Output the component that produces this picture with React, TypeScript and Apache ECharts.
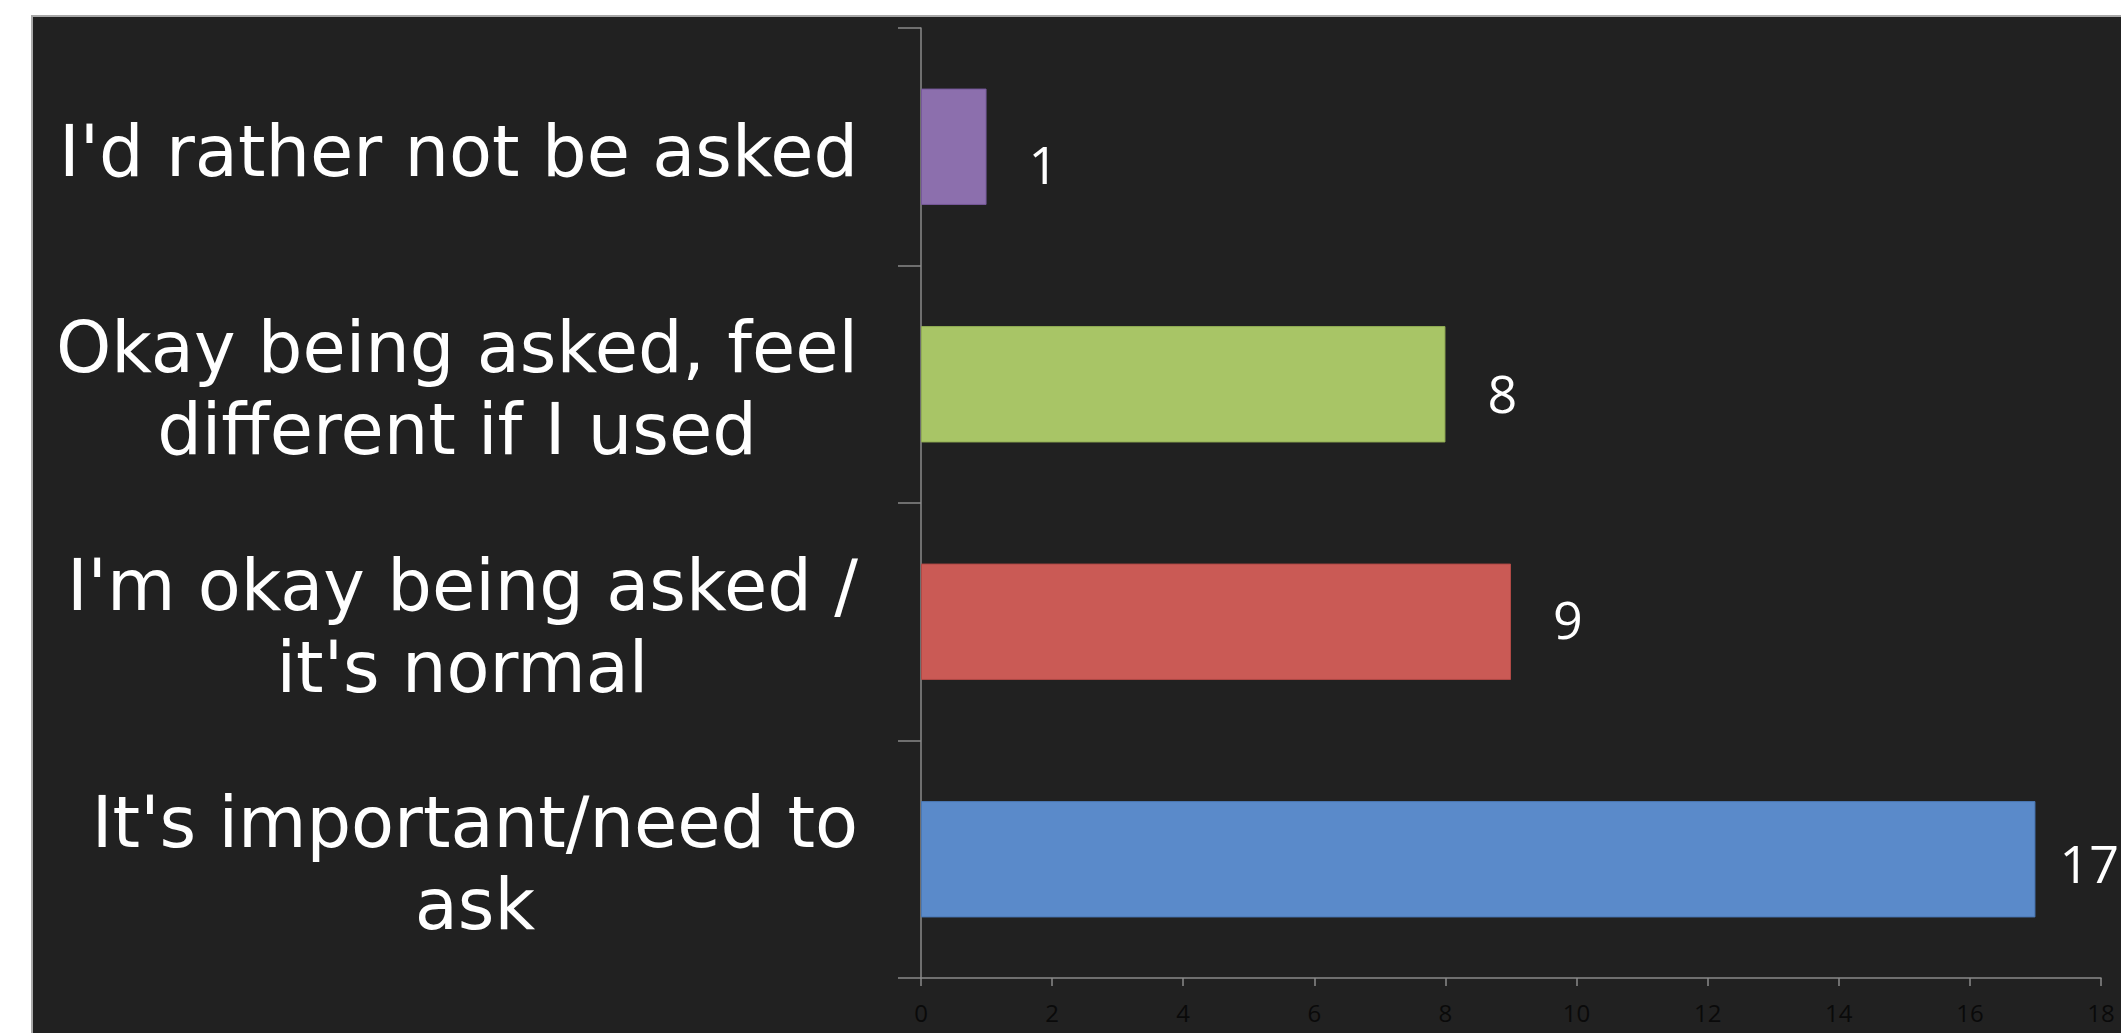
import React, { useEffect, useRef } from "react";
import * as echarts from "echarts";

const categories = [
  "It's important/need to\nask",
  "I'm okay being asked /\nit's normal",
  "Okay being asked, feel\ndifferent if I used",
  "I'd rather not be asked",
];
const values = [17, 9, 8, 1];
const barColors = ["#5A8ACA", "#CA5A55", "#A8C566", "#8C6FAD"];
const barBorders = ["#4A78B4", "#B04A46", "#92AE55", "#76599A"];
const xTickMin = 0;
const xTickMax = 18;
const xTickStep = 2;
// nudges of the value labels as placed in the original (x, y in px)
const labelNudges = [
  [-18, 3],
  [0, -3],
  [0, 8],
  [0, 17],
];

export default function App() {
  const ref = useRef<HTMLDivElement>(null);
  useEffect(() => {
    if (!ref.current) return;
    const chart = echarts.init(ref.current, undefined, { renderer: "svg" });
    const axisColor = "#8A8A8A";
    chart.setOption({
      animation: false,
      grid: { left: 888, right: 20, top: 11, bottom: 55, containLabel: false },
      xAxis: {
        type: "value",
        min: xTickMin,
        max: xTickMax,
        interval: xTickStep,
        splitLine: { show: false },
        axisLine: { show: true, lineStyle: { color: axisColor, width: 1.5 } },
        axisTick: { show: true, length: 8, lineStyle: { color: axisColor, width: 1.5 } },
        axisLabel: {
          margin: 22,
          color: "#0A0A0A",
          fontSize: 24,
          fontFamily: "Open Sans",
        },
      },
      yAxis: {
        type: "category",
        data: categories,
        axisLine: { show: true, lineStyle: { color: axisColor, width: 1.5 } },
        axisTick: { show: true, length: 23, lineStyle: { color: axisColor, width: 1.5 } },
        axisLabel: {
          margin: 63,
          align: "right",
          color: "#FFFFFF",
          fontSize: 70.3,
          fontFamily: "DejaVu Sans",
          lineHeight: 82,
          padding: [10, 0, 0, 0],
          formatter: (v: string) =>
            v
              .split("\n")
              .map((l) => `{c|${l}}`)
              .join("\n"),
          rich: {
            c: {
              align: "center",
              color: "#FFFFFF",
              fontSize: 70.3,
              fontFamily: "DejaVu Sans",
              lineHeight: 82,
            },
          },
        },
      },
      series: [
        {
          type: "bar",
          barCategoryGap: "51%",
          data: values.map((v, i) => ({
            value: v,
            itemStyle: { color: barColors[i], borderColor: barBorders[i], borderWidth: 1 },
            label: { offset: labelNudges[i] },
          })),
          label: {
            show: true,
            position: "right",
            distance: 42,
            color: "#FFFFFF",
            fontSize: 52,
            fontFamily: "Open Sans",
          },
        },
      ],
    });
    return () => chart.dispose();
  }, []);

  return (
    <div style={{ position: "fixed", left: 0, top: 0, width: 2121, height: 1033, background: "#FFFFFF", overflow: "hidden" }}>
      <div
        ref={ref}
        style={{
          position: "absolute",
          left: 31,
          top: 15,
          width: 2090,
          height: 1018,
          boxSizing: "border-box",
          background: "#212121",
          borderLeft: "2px solid #A8A8A8",
          borderTop: "2px solid #A8A8A8",
        }}
      />
    </div>
  );
}
